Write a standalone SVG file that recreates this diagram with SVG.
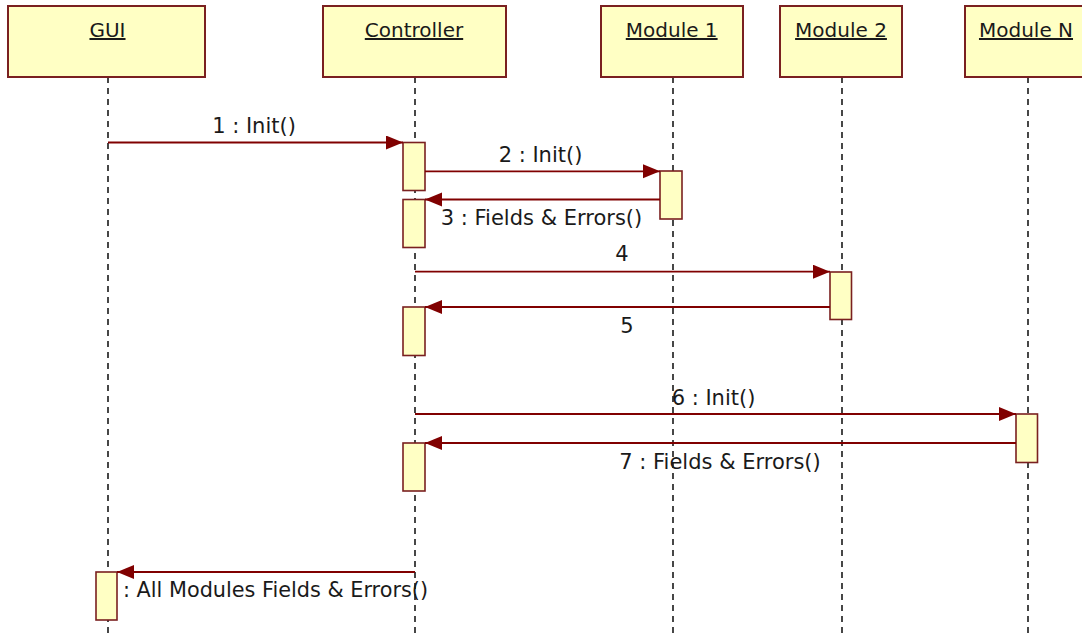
<svg xmlns="http://www.w3.org/2000/svg" width="1082" height="635" viewBox="0 0 1082 635">
<style>
.obj{fill:#FFFFC4;stroke:#7A2020;stroke-width:2}
.act{fill:#FFFFC4;stroke:#7A2020;stroke-width:1.6}
.life{stroke:#1a1a1a;stroke-width:1.6;stroke-dasharray:6 5;fill:none}
.msg{stroke:#800000;stroke-width:1.8;fill:none;marker-end:url(#ah)}
.hd{font-family:"DejaVu Sans",sans-serif;font-size:20px;fill:#1a1a1a;text-anchor:middle;text-decoration:underline}
.lb{font-family:"DejaVu Sans",sans-serif;font-size:21px;fill:#1a1a1a;text-anchor:middle}
</style>
<defs>
<marker id="ah" markerUnits="userSpaceOnUse" markerWidth="18" markerHeight="15" refX="17" refY="7" orient="auto">
<path d="M0,0 L17,7 L0,14 z" fill="#800000"/>
</marker>
</defs>
<rect width="1082" height="635" fill="#ffffff"/>
<g id="lifelines">
<line class="life" x1="108" y1="77" x2="108" y2="635"/>
<line class="life" x1="415" y1="77" x2="415" y2="635"/>
<line class="life" x1="673" y1="77" x2="673" y2="635"/>
<line class="life" x1="842" y1="77" x2="842" y2="635"/>
<line class="life" x1="1028" y1="77" x2="1028" y2="635"/>
</g>
<g id="GUI">
<rect class="obj" x="8" y="6" width="197" height="71"/>
<text class="hd" x="107.5" y="37">GUI</text>
<rect class="act" x="96" y="572" width="21" height="48"/>
</g>
<g id="Controller">
<rect class="obj" x="323" y="6" width="183" height="71"/>
<text class="hd" x="414" y="37">Controller</text>
<rect class="act" x="403" y="142.5" width="22" height="48"/>
<rect class="act" x="403" y="199.5" width="22" height="48"/>
<rect class="act" x="403" y="307" width="22" height="48.5"/>
<rect class="act" x="403" y="443" width="22" height="48"/>
</g>
<g id="Module1">
<rect class="obj" x="601" y="6" width="142" height="71"/>
<text class="hd" x="671.7" y="37">Module 1</text>
<rect class="act" x="660" y="171" width="22" height="48"/>
</g>
<g id="Module2">
<rect class="obj" x="780" y="6" width="122" height="71"/>
<text class="hd" x="841" y="37">Module 2</text>
<rect class="act" x="830" y="272" width="21.5" height="47.5"/>
</g>
<g id="ModuleN">
<rect class="obj" x="965" y="6" width="130" height="71"/>
<text class="hd" x="1026" y="37">Module N</text>
<rect class="act" x="1016" y="414" width="21.5" height="48.5"/>
</g>
<g id="connectors">
<line class="msg" x1="108" y1="142.5" x2="403" y2="142.5"/>
<line class="msg" x1="425" y1="171.3" x2="660" y2="171.3"/>
<line class="msg" x1="660" y1="199.5" x2="425" y2="199.5"/>
<line class="msg" x1="415" y1="271.7" x2="830" y2="271.7"/>
<line class="msg" x1="830" y1="307" x2="425" y2="307"/>
<line class="msg" x1="415" y1="414" x2="1016" y2="414"/>
<line class="msg" x1="1016" y1="443" x2="425" y2="443"/>
<line class="msg" x1="415" y1="572" x2="117" y2="572"/>
<text class="lb" x="254" y="133">1 : Init()</text>
<text class="lb" x="540.5" y="162">2 : Init()</text>
<text class="lb" x="541.5" y="225">3 : Fields &amp; Errors()</text>
<text class="lb" x="622" y="261">4</text>
<text class="lb" x="627" y="333">5</text>
<text class="lb" x="713.5" y="405">6 : Init()</text>
<text class="lb" x="720" y="469">7 : Fields &amp; Errors()</text>
<text class="lb" x="123" y="597" style="text-anchor:start" textLength="305" lengthAdjust="spacingAndGlyphs">: All Modules Fields &amp; Errors()</text>
</g>
</svg>
